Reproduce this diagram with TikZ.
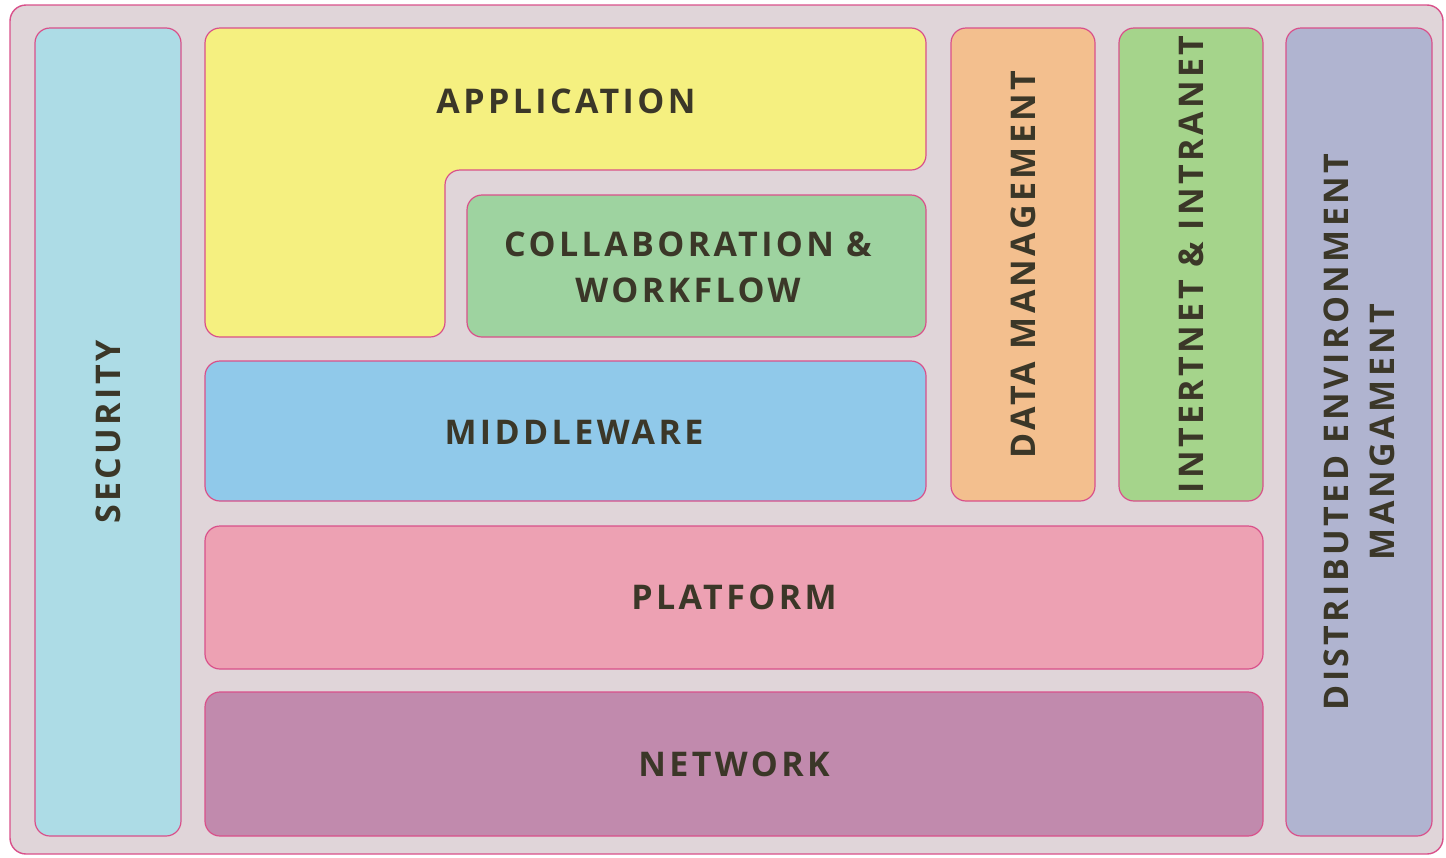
\documentclass[tikz,border=0pt]{standalone}
\usepackage{fontspec}
\setmainfont{Open Sans}
\newfontfamily\labelface{Open Sans}[LetterSpace=10]
\usetikzlibrary{positioning}

\definecolor{frameline}{HTML}{D9508A}
\definecolor{framebg}{HTML}{E0D5D9}
\definecolor{inktext}{HTML}{3B3728}
\definecolor{secfill}{HTML}{ADDCE6}
\definecolor{appfill}{HTML}{F5F080}
\definecolor{collfill}{HTML}{9ED3A0}
\definecolor{midfill}{HTML}{90C9EA}
\definecolor{datafill}{HTML}{F3BF8E}
\definecolor{netfill}{HTML}{A5D48B}
\definecolor{distfill}{HTML}{B0B4D0}
\definecolor{platfill}{HTML}{EDA1B3}
\definecolor{networkfill}{HTML}{C18AAD}

\newcommand{\labelfont}{\labelface\fontsize{34}{46}\selectfont\bfseries}

\begin{document}
\begin{tikzpicture}[x=1pt,y=-1pt,
  layer/.style={draw=frameline, line width=1.2pt, rounded corners=15pt,
    inner sep=0pt, text=inktext, font=\labelfont, align=center},
  hbox/.style={layer},
  vbox/.style={layer, rotate=90}]

\useasboundingbox (0,0) rectangle (1446,857);

% outer frame
\draw[draw=frameline, fill=framebg, line width=1.4pt, rounded corners=16pt]
  (10,5) rectangle (1443,854);

% application: L-shaped layer around the collaboration block
\draw[draw=frameline, fill=appfill, line width=1.2pt, rounded corners=15pt]
  (205,28) -- (926,28) -- (926,170) -- (445,170) -- (445,337) -- (205,337) -- cycle;
\node[text=inktext, font=\labelfont] (app) at (566,101) {APPLICATION};

% horizontal layers
\node[hbox, fill=collfill, minimum width=459pt, minimum height=142pt]
  (coll) at (696.5,266) {};
\node[text=inktext, font=\labelfont, align=center] (colltext) at (688,267)
  {COLLABORATION \&\\WORKFLOW};
\node[hbox, fill=midfill, minimum width=721pt, minimum height=140pt]
  (mid) at (565.5,431) {};
\node[text=inktext, font=\labelfont] (midtext) at (574,432) {MIDDLEWARE};
\node[hbox, fill=platfill, minimum width=1058pt, minimum height=143pt]
  (plat) at (734,597.5) {PLATFORM};
\node[hbox, fill=networkfill, minimum width=1058pt, minimum height=144pt]
  (net) at (734,764) {NETWORK};

% vertical layers
\node[vbox, fill=secfill, minimum width=808pt, minimum height=146pt]
  (sec) at (108,432) {SECURITY};
\node[vbox, fill=datafill, minimum width=473pt, minimum height=144pt]
  (data) at (1023,264.5) {DATA MANAGEMENT};
\node[vbox, fill=netfill, minimum width=473pt, minimum height=144pt]
  (inet) at (1191,264.5) {INTERTNET \& INTRANET};
\node[vbox, fill=distfill, minimum width=808pt, minimum height=146pt]
  (dist) at (1359,432) {DISTRIBUTED ENVIRONMENT\\MANGAMENT};

\end{tikzpicture}
\end{document}
